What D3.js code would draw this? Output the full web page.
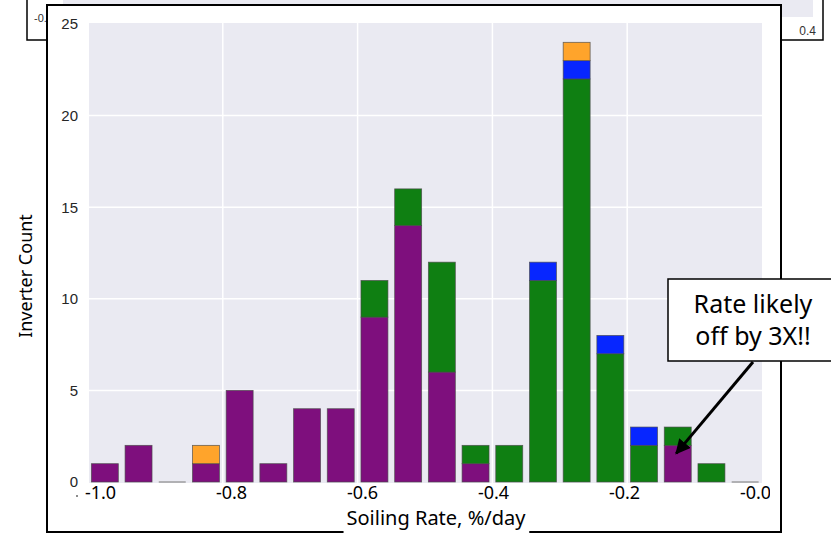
<!DOCTYPE html>
<html>
<head>
<meta charset="utf-8">
<script src="https://cdn.jsdelivr.net/npm/d3@7"></script>
<style>
  body { margin: 0; background: #fff; }
  svg { display: block; }
</style>
</head>
<body>
<div id="chart"></div>
<script>
// bins of 0.05 %/day from -1.0 to 0.0
var binStarts = [-1.0, -0.95, -0.9, -0.85, -0.8, -0.75, -0.7, -0.65, -0.6, -0.55,
                 -0.5, -0.45, -0.4, -0.35, -0.3, -0.25, -0.2, -0.15, -0.1, -0.05];
var purpleCounts = [1, 2, 0, 1, 5, 1, 4, 4, 9, 14, 6, 1, 0, 0, 0, 0, 0, 2, 0, 0];
var greenCounts  = [0, 0, 0, 0, 0, 0, 0, 0, 2, 2, 6, 1, 2, 11, 22, 7, 2, 1, 1, 0];
var blueCounts   = [0, 0, 0, 0, 0, 0, 0, 0, 0, 0, 0, 0, 0, 1, 1, 1, 1, 0, 0, 0];
var orangeCounts = [0, 0, 0, 1, 0, 0, 0, 0, 0, 0, 0, 0, 0, 0, 1, 0, 0, 0, 0, 0];
var binWidth = 0.05;

var yTicks = [0, 5, 10, 15, 20, 25];
var xTicks = [-1.0, -0.8, -0.6, -0.4, -0.2, 0.0];
var xTickLabels = ["-1.0", "-0.8", "-0.6", "-0.4", "-0.2", "-0.0"];

var keys = ["purple", "green", "blue", "orange"];
var colors = {purple: "#7e0f7d", green: "#0f7f12", blue: "#0726ff", orange: "#ffa42b"};

var width = 831, height = 534;

var svg = d3.select("#chart").append("svg")
    .attr("width", width)
    .attr("height", height);

// ---- the slide behind (only its bottom strip shows)
svg.append("rect")
    .attr("x", 27).attr("y", -10)
    .attr("width", 796).attr("height", 50)
    .attr("fill", "#fff").attr("stroke", "#000").attr("stroke-width", 1.5);
svg.append("rect")
    .attr("x", 63).attr("y", -10)
    .attr("width", 750).attr("height", 27)
    .attr("fill", "#eaeaf2");
svg.append("text")
    .attr("x", 34).attr("y", 22)
    .attr("font-family", "Liberation Sans, Arial, sans-serif")
    .attr("font-size", 11).attr("fill", "#333")
    .text("-0.");
svg.append("text")
    .attr("x", 816).attr("y", 35)
    .attr("text-anchor", "end")
    .attr("font-family", "Liberation Sans, Arial, sans-serif")
    .attr("font-size", 12).attr("fill", "#333")
    .text("0.4");

// ---- main frame
svg.append("rect")
    .attr("x", 47).attr("y", 5)
    .attr("width", 734).attr("height", 527)
    .attr("fill", "#fff").attr("stroke", "#000").attr("stroke-width", 2);

// scales
var x = d3.scaleLinear().domain([-1.0, 0.0]).range([88, 762]);
var y = d3.scaleLinear().domain([0, 25]).range([482, 24]);
// the x labels were retyped on the slide and sit a bit off the grid
var xLabel = d3.scaleLinear().domain([-1.0, 0.0]).range([100, 755]);

// plot background
svg.append("rect")
    .attr("x", x(-1.0) + 1).attr("y", y(25) - 1)
    .attr("width", x(0) - x(-1.0) - 1).attr("height", y(0) - y(25) + 2)
    .attr("fill", "#eaeaf2");

// grid
svg.append("g").selectAll("line")
    .data(yTicks.slice(1, 5))
    .enter().append("line")
    .attr("x1", x(-1.0) + 1).attr("x2", x(0))
    .attr("y1", function (d) { return y(d); })
    .attr("y2", function (d) { return y(d); })
    .attr("stroke", "#fff").attr("stroke-width", 1.5);
svg.append("g").selectAll("line")
    .data(xTicks.slice(1, 5))
    .enter().append("line")
    .attr("x1", function (d) { return x(d); })
    .attr("x2", function (d) { return x(d); })
    .attr("y1", y(25) - 1).attr("y2", y(0) + 1)
    .attr("stroke", "#fff").attr("stroke-width", 1.5);

// stacked bars
var table = binStarts.map(function (b, i) {
    return {start: b, purple: purpleCounts[i], green: greenCounts[i],
            blue: blueCounts[i], orange: orangeCounts[i]};
});
var series = d3.stack().keys(keys)(table);
var barPad = (x(binWidth) - x(0)) * 0.1;

svg.append("g").selectAll("g")
    .data(series)
    .enter().append("g")
    .attr("fill", function (s) { return colors[s.key]; })
    .selectAll("rect")
    .data(function (s) { return s.filter(function (d) { return d[1] > d[0]; }); })
    .enter().append("rect")
    .attr("x", function (d) { return x(d.data.start) + barPad; })
    .attr("width", function (d) { return x(d.data.start + binWidth) - x(d.data.start) - 2 * barPad; })
    .attr("y", function (d) { return y(d[1]); })
    .attr("height", function (d) { return y(d[0]) - y(d[1]); })
    .attr("stroke", "#4a4a4a")
    .attr("stroke-opacity", 0.8)
    .attr("stroke-width", 0.8);

// empty bins still get their flat edge
svg.append("g").selectAll("line")
    .data(table.filter(function (d) {
        return d.purple + d.green + d.blue + d.orange === 0;
    }))
    .enter().append("line")
    .attr("x1", function (d) { return x(d.start) + barPad; })
    .attr("x2", function (d) { return x(d.start + binWidth) - barPad; })
    .attr("y1", y(0)).attr("y2", y(0))
    .attr("stroke", "#8a8a8a").attr("stroke-width", 1.2);

// y axis
var yAxis = svg.append("g")
    .attr("transform", "translate(" + (x(-1.0) - 1) + ",0)")
    .call(d3.axisLeft(y).tickValues(yTicks).tickSize(0).tickPadding(9));
yAxis.select(".domain").remove();
yAxis.selectAll("text")
    .attr("font-family", "Liberation Sans, Arial, sans-serif")
    .attr("font-size", 15)
    .attr("fill", "#262626");

// x tick labels
svg.append("clipPath").attr("id", "xclip")
    .append("rect").attr("x", 0).attr("y", 480).attr("width", 770).attr("height", 40);
var xAxis = svg.append("g")
    .attr("clip-path", "url(#xclip)")
    .append("g")
    .attr("transform", "translate(0,481)")
    .call(d3.axisBottom(xLabel).tickValues(xTicks).tickSize(0).tickPadding(5)
        .tickFormat(function (d, i) { return xTickLabels[i]; }));
xAxis.select(".domain").remove();
xAxis.selectAll("text")
    .attr("font-family", "Noto Sans, Open Sans, sans-serif")
    .attr("font-size", 18)
    .attr("fill", "#000");
// small stray dot left of the first label
svg.append("circle")
    .attr("cx", xLabel(-1.0) - 23).attr("cy", 496)
    .attr("r", 1)
    .attr("fill", "#666");

// axis titles, the x title sits on a white patch that breaks the frame
var titleBox = svg.append("rect").attr("fill", "#fff");
var xTitle = svg.append("text")
    .attr("x", 436).attr("y", 525)
    .attr("text-anchor", "middle")
    .attr("font-family", "Noto Sans, Open Sans, sans-serif")
    .attr("font-size", 20)
    .attr("fill", "#000")
    .text("Soiling Rate, %/day");
var bb = xTitle.node().getBBox();
titleBox
    .attr("x", bb.x - 3).attr("y", bb.y)
    .attr("width", bb.width + 6).attr("height", bb.height + 6);

svg.append("text")
    .attr("transform", "translate(32,276) rotate(-90)")
    .attr("text-anchor", "middle")
    .attr("font-family", "Noto Sans, Open Sans, sans-serif")
    .attr("font-size", 18)
    .attr("fill", "#000")
    .text("Inverter Count");

// annotation
var noteBin = 17;
var tip = [x(binStarts[noteBin]) + barPad + 12, y(purpleCounts[noteBin]) + 8];
var tail = [753, 362];

svg.append("defs").append("marker")
    .attr("id", "arrow")
    .attr("viewBox", "0 0 10 10")
    .attr("refX", 9).attr("refY", 5)
    .attr("markerWidth", 5).attr("markerHeight", 5)
    .attr("orient", "auto")
    .append("path")
    .attr("d", "M0,0 L10,5 L0,10 z")
    .attr("fill", "#000");

svg.append("line")
    .attr("x1", tail[0]).attr("y1", tail[1])
    .attr("x2", tip[0]).attr("y2", tip[1])
    .attr("stroke", "#000").attr("stroke-width", 3)
    .attr("marker-end", "url(#arrow)");

svg.append("rect")
    .attr("x", 668).attr("y", 279)
    .attr("width", 180).attr("height", 82)
    .attr("fill", "#fff").attr("stroke", "#000").attr("stroke-width", 1.5);

svg.append("text")
    .attr("x", 753).attr("y", 313)
    .attr("text-anchor", "middle")
    .attr("font-family", "Noto Sans, Open Sans, sans-serif")
    .attr("font-size", 25)
    .attr("fill", "#000")
    .text("Rate likely");
svg.append("text")
    .attr("x", 753).attr("y", 345)
    .attr("text-anchor", "middle")
    .attr("font-family", "Noto Sans, Open Sans, sans-serif")
    .attr("font-size", 25)
    .attr("fill", "#000")
    .text("off by 3X!!");
</script>
</body>
</html>
